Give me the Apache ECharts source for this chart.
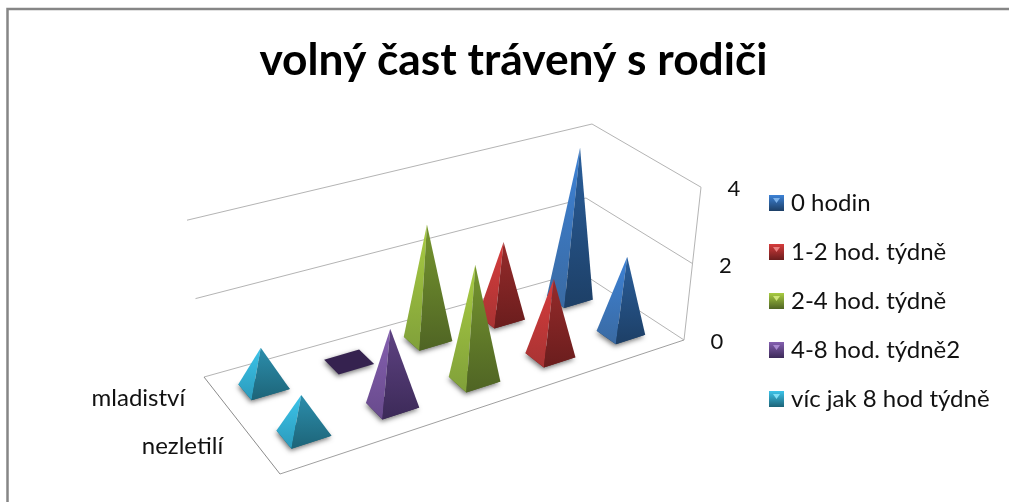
<!DOCTYPE html>
<html><head><meta charset="utf-8">
<style>html,body{margin:0;padding:0;background:#fff}#c{width:1009px;height:502px}</style>
<script src="https://cdn.jsdelivr.net/npm/echarts@6/dist/echarts.min.js"></script>
</head><body><div id="c"></div>
<script>
const chartTitle = 'volný čast trávený s rodiči';
const categories = ['mladiství', 'nezletilí'];
const seriesNames = ['0 hodin', '1-2 hod. týdně', '2-4 hod. týdně', '4-8 hod. týdně2', 'víc jak 8 hod týdně'];
const values0 = [4, 2];
const values1 = [2, 2];
const values2 = [3, 3];
const values3 = [0, 2];
const values4 = [1, 1];
const valueTicks = [0, 2, 4];
const allValues = [values0, values1, values2, values3, values4];

const palette = [
  { lt: '#3d82d6', lb: '#3a6aa2', rt: '#2a5f9c', rb: '#1d3f66', ic: '#2f65a5', tri: '#7db2ea' },
  { lt: '#d63c3c', lb: '#a83333', rt: '#962b2b', rb: '#6a1d1d', ic: '#a83232', tri: '#ea8080' },
  { lt: '#a9cc42', lb: '#80a03a', rt: '#76962f', rb: '#4f6424', ic: '#7f9c35', tri: '#cfe57a' },
  { lt: '#8560b0', lb: '#684a8c', rt: '#5e4282', rb: '#3c2a58', ic: '#65488f', tri: '#a98ad0', flat: '#35224f' },
  { lt: '#3cc4ea', lb: '#2b9abb', rt: '#2c8eac', rb: '#1d6478', ic: '#2a8fb0', tri: '#80def5' }
];

// projection of the chart box: floor plane and height vector per value unit
const A = [204, 377], B = [580, 272], C = [684, 340], D = [280, 474];
const hBL = [-4.25, -39.2], hBR = [3, -37], hFR = [4.25, -38.2], hFL = [-3, -38];
const dx1 = B[0] - C[0], dy1 = B[1] - C[1], dx2 = D[0] - C[0], dy2 = D[1] - C[1];
const sx = A[0] - B[0] + C[0] - D[0], sy = A[1] - B[1] + C[1] - D[1];
const det = dx1 * dy2 - dx2 * dy1;
const g = (sx * dy2 - dx2 * sy) / det, h = (dx1 * sy - sx * dy1) / det;
const a = B[0] - A[0] + g * B[0], b = D[0] - A[0] + h * D[0];
const d = B[1] - A[1] + g * B[1], e = D[1] - A[1] + h * D[1];
function proj(u, v, lvl) {
  const w = 1 + g * u + h * v;
  const x = (a * u + b * v + A[0]) / w, y = (d * u + e * v + A[1]) / w;
  const mix = i => (1 - u) * (1 - v) * hBL[i] + u * (1 - v) * hBR[i] + u * v * hFR[i] + (1 - u) * v * hFL[i];
  return [x + mix(0) * lvl, y + mix(1) * lvl];
}
const grad = (t, b2) => new echarts.graphic.LinearGradient(0, 0, 0, 1, [{ offset: 0, color: t }, { offset: 1, color: b2 }]);
const DU = 0.043, DV = 0.09, SHIFT_U = 0.005;

function toPlane(params, api, cat, val) {
  const p = api.coord([cat, val]);
  const s = params.coordSys;
  return [(p[0] - s.x) / s.width, (s.y + s.height - p[1]) / s.height * valueTicks[valueTicks.length - 1]];
}

function renderPyramid(params, api) {
  const cat = api.value(0), val = api.value(1), row = api.value(2);
  const [u, lvl] = toPlane(params, api, cat, val);
  // series run right to left across the floor
  const uu = 1 - u - SHIFT_U, v = (row + 0.5) / categories.length;
  const pal = palette[cat];
  const left = proj(uu - DU, v - DV, 0), bottom = proj(uu - DU, v + DV, 0);
  const right = proj(uu + DU, v + DV, 0), top = proj(uu + DU, v - DV, 0);
  const apex = proj(uu, v, lvl);
  const z2 = 10 + row * 10;
  const children = [{
    type: 'polygon', z2,
    shape: { points: [left, bottom, right, top] },
    style: { fill: pal.flat || pal.rb, shadowBlur: 5, shadowColor: 'rgba(0,0,0,0.55)', shadowOffsetX: -1, shadowOffsetY: 2 }
  }];
  if (val > 0) {
    children.push({ type: 'polygon', z2: z2 + 1, shape: { points: [apex, left, bottom] }, style: { fill: grad(pal.lt, pal.lb) } });
    children.push({ type: 'polygon', z2: z2 + 2, shape: { points: [apex, bottom, right] }, style: { fill: grad(pal.rt, pal.rb) } });
  }
  return { type: 'group', children };
}

function renderBox(params, api) {
  const lvl = toPlane(params, api, 0, api.value(1))[1];
  const ln = (p, q, col) => ({ type: 'line', z2: 1, shape: { x1: p[0], y1: p[1], x2: q[0], y2: q[1] }, style: { stroke: col || '#b4b4b4', lineWidth: 1 } });
  const pBL = proj(0, 0, lvl), pBR = proj(1, 0, lvl), pFR = proj(1, 1, lvl);
  const lp = proj(1, 1, lvl);
  const children = [
    ln(pBL, pBR), ln(pBR, pFR),
    { type: 'text', z2: 3, x: lp[0] + 33, y: lp[1] + 2,
      style: { text: String(api.value(1)), font: '22px Lato', fill: '#111', align: 'center', verticalAlign: 'middle' } }
  ];
  if (params.dataIndex === 0) {
    children.push(ln(proj(0, 0, 0), proj(0, 1, 0), '#8c8c8c'), ln(proj(0, 1, 0), proj(1, 1, 0), '#a0a0a0'));
    children.push(ln(proj(1, 1, 0), proj(1, 1, valueTicks[valueTicks.length - 1]), '#b4b4b4'));
    categories.forEach((c, i) => {
      const q = proj(0, (i + 0.5) / categories.length, 0);
      children.push({ type: 'text', z2: 3, x: q[0] - 36, y: q[1] - 1,
        style: { text: c, font: '24px Lato', fill: '#111', align: 'right', verticalAlign: 'middle' } });
    });
  }
  return { type: 'group', children };
}

function legendIcon(p) {
  const svg = `<svg xmlns="http://www.w3.org/2000/svg" width="15" height="16"><defs><linearGradient id="g" x1="0" y1="0" x2="0" y2="1"><stop offset="0" stop-color="${p.lt}"/><stop offset="1" stop-color="${p.rb}"/></linearGradient></defs><rect width="15" height="16" fill="url(#g)"/><polygon points="4,3 11,3 7.5,8" fill="${p.tri}"/></svg>`;
  return 'image://data:image/svg+xml;charset=utf-8,' + encodeURIComponent(svg);
}

const series = seriesNames.map((name, i) => ({
  type: 'custom', name, coordinateSystem: 'cartesian2d', renderItem: renderPyramid,
  itemStyle: { color: palette[i].ic }, silent: true,
  data: categories.map((c, r) => [name, allValues[i][r], r]),
  encode: { x: 0, y: 1 }
}));
series.unshift({
  type: 'custom', name: 'box', coordinateSystem: 'cartesian2d', renderItem: renderBox, silent: true,
  data: valueTicks.map(t => [seriesNames[0], t]), encode: { x: 0, y: 1 }
});

const chart = echarts.init(document.getElementById('c'));
chart.setOption({
  animation: false,
  backgroundColor: '#fff',
  title: { text: chartTitle, left: 508.5, top: 34, textAlign: 'center',
    textStyle: { fontFamily: 'Lato', fontWeight: 'bold', fontSize: 44.3, color: '#000' } },
  grid: { left: 100, top: 100, width: 500, height: 300, show: false },
  xAxis: { type: 'category', data: seriesNames, show: false },
  yAxis: { type: 'value', min: 0, max: 4, interval: 2, show: false },
  legend: {
    orient: 'vertical', left: 764, top: 186, itemWidth: 15, itemHeight: 16, itemGap: 25, selectedMode: false,
    data: seriesNames.map((n, i) => ({ name: n, icon: legendIcon(palette[i]) })),
    textStyle: { fontFamily: 'Lato', fontSize: 24, color: '#111', padding: [0, 0, 0, 2] }
  },
  graphic: [{ type: 'rect', silent: true, shape: { x: 7.5, y: 9, width: 1200, height: 700 },
    style: { fill: 'none', stroke: '#868686', lineWidth: 2.5 } }],
  series
});
</script></body></html>
